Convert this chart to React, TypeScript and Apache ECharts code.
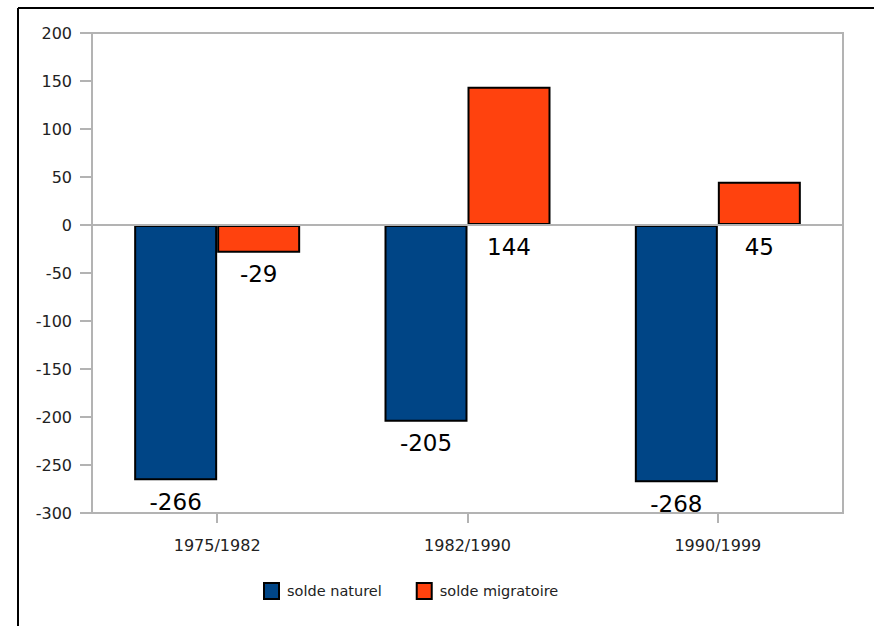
import React, { useEffect, useRef } from "react";
import * as echarts from "echarts";

const categories = ["1975/1982", "1982/1990", "1990/1999"];
const soldeNaturel = [-266, -205, -268];
const soldeMigratoire = [-29, 144, 45];
const seriesNames = ["solde naturel", "solde migratoire"];
const yTicks = [-300, -250, -200, -150, -100, -50, 0, 50, 100, 150, 200];

export default function App() {
  const ref = useRef<HTMLDivElement>(null);
  useEffect(() => {
    if (!ref.current) return;
    const chart = echarts.init(ref.current, undefined, { renderer: "svg" });
    const font = "'DejaVu Sans', Verdana, sans-serif";
    const label = {
      show: true,
      position: "bottom",
      distance: 10,
      color: "#000",
      fontSize: 23,
      fontFamily: font,
    };
    const frame = [
      { type: "line", shape: { x1: 18, y1: 8, x2: 874, y2: 8 }, style: { stroke: "#000", lineWidth: 2 } },
      { type: "line", shape: { x1: 18, y1: 8, x2: 18, y2: 626 }, style: { stroke: "#000", lineWidth: 2 } },
    ];
    chart.setOption({
      animation: false,
      backgroundColor: "#fff",
      textStyle: { fontFamily: font },
      grid: {
        left: 92,
        top: 33,
        right: 31,
        bottom: 113,
        show: true,
        borderColor: "#b3b3b3",
        borderWidth: 2,
        backgroundColor: "transparent",
      },
      legend: {
        left: 263,
        top: 582,
        padding: 0,
        icon: "rect",
        itemWidth: 15,
        itemHeight: 16,
        itemGap: 34,
        textStyle: { fontSize: 14.5, color: "#222", fontFamily: font, padding: [0, 0, 0, 3] },
        data: seriesNames,
      },
      xAxis: {
        type: "category",
        data: categories,
        axisLine: { onZero: false, lineStyle: { color: "#b3b3b3", width: 2 } },
        axisTick: { show: true, alignWithLabel: true, length: 10, lineStyle: { color: "#b3b3b3", width: 2 } },
        axisLabel: { color: "#222", fontSize: 16, margin: 24, fontFamily: font },
      },
      yAxis: {
        type: "value",
        min: -300,
        max: 200,
        interval: 50,
        axisLine: { show: true, lineStyle: { color: "#b3b3b3", width: 2 } },
        axisTick: { show: true, length: 12, lineStyle: { color: "#b3b3b3", width: 2 } },
        splitLine: { show: false },
        axisLabel: { color: "#222", fontSize: 16, margin: 20, fontFamily: font },
      },
      series: [
        {
          name: seriesNames[0],
          type: "bar",
          data: soldeNaturel,
          barWidth: 83,
          barGap: "0%",
          itemStyle: { color: "#004586", borderColor: "#000", borderWidth: 2 },
          label,
          markLine: {
            silent: true,
            symbol: "none",
            label: { show: false },
            lineStyle: { color: "#b3b3b3", width: 2, type: "solid" },
            data: [{ yAxis: 0 }],
          },
        },
        {
          name: seriesNames[1],
          type: "bar",
          data: soldeMigratoire,
          barWidth: 83,
          barGap: "0%",
          itemStyle: { color: "#ff420e", borderColor: "#000", borderWidth: 2 },
          label,
        },
      ],
      graphic: frame,
    });
    const tickLines = yTicks.map((v) => {
      const y = chart.convertToPixel({ yAxisIndex: 0 }, v) as number;
      return {
        type: "line",
        shape: { x1: 80, y1: y, x2: 92, y2: y },
        style: { stroke: "#b3b3b3", lineWidth: 2 },
      };
    });
    chart.setOption({ graphic: [...frame, ...tickLines] });
    return () => chart.dispose();
  }, []);
  return (
    <div
      ref={ref}
      style={{ position: "fixed", left: 0, top: 0, width: 874, height: 626 }}
    />
  );
}
